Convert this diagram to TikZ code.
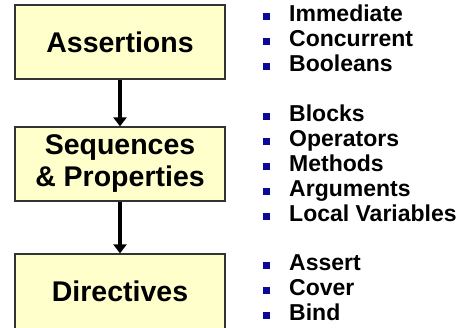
\documentclass[tikz,border=0pt]{standalone}
\usepackage{fontspec}
\setmainfont{Liberation Sans}
\usepackage{tikz}
\usetikzlibrary{arrows.meta, positioning}
\definecolor{box-yellow}{HTML}{FFFFCC}
\definecolor{box-border}{HTML}{333333}
\definecolor{bullet-blue}{HTML}{0A0A96}

\begin{document}
\begin{tikzpicture}[x=1pt, y=-1pt,
    stage/.style={draw=box-border, line width=1.2pt, fill=box-yellow, minimum width=210pt,
        align=center, inner sep=0pt, font=\fontsize{28.5}{32}\selectfont\bfseries},
    flow/.style={line width=4pt, -{Triangle[width=13pt, length=9pt]}},
    item/.style={anchor=base west, inner sep=0pt, font=\fontsize{23}{25}\selectfont\bfseries}]
    \useasboundingbox (0,0) rectangle (461,327);
    % stages
    \node[stage, minimum height=74pt] (assertions) at (120,42) {Assertions};
    \node[stage, minimum height=74pt] (sequences) at (120,164) {Sequences\\\& Properties};
    \node[stage, minimum height=75pt] (directives) at (120,291.5) {Directives};
    \draw[flow] (assertions.south) -- (sequences.north);
    \draw[flow] (sequences.south) -- (directives.north);
    % bullet lists
    \foreach \y/\txt [count=\i] in {21/Immediate, 46/Concurrent, 71/Booleans,
        121/Blocks, 146/Operators, 171/Methods, 196/Arguments, 221/Local Variables,
        270/Assert, 295/Cover, 320/Bind}
        \node[item] (item\i) at (263,\y)
            {\makebox[26pt][l]{\textcolor{bullet-blue}{\rule[1pt]{7pt}{7pt}}}\txt};
\end{tikzpicture}
\end{document}
